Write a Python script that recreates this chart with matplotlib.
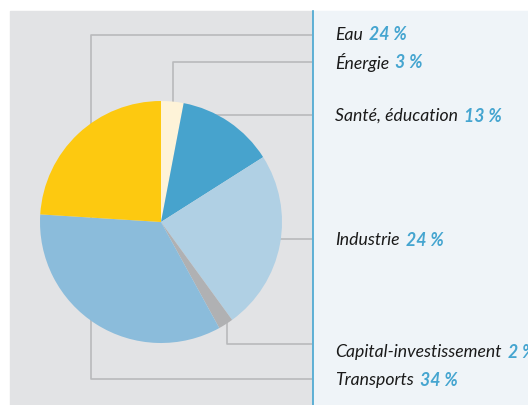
import matplotlib
matplotlib.use("Agg")
import matplotlib.pyplot as plt

# données
secteurs = ["Énergie", "Santé, éducation", "Industrie", "Capital-investissement", "Transports", "Eau"]
parts = [3, 13, 24, 2, 34, 24]
couleurs = ["#fef3d8", "#47a3cd", "#b0d0e4", "#b0b1b3", "#8bbcdb", "#fdc910"]

# ordre des étiquettes à droite
etiquettes = ["Eau", "Énergie", "Santé, éducation", "Industrie", "Capital-investissement", "Transports"]
etiq_y = [35, 63, 116, 240, 352, 380]

W, H = 528, 405
fig = plt.figure(figsize=(W / 100, H / 100), dpi=100)
ax = fig.add_axes([0, 0, 1, 1])

def Y(y):  # pixels depuis le haut -> coordonnées
    return H - y

# fonds
ax.add_patch(plt.Rectangle((10, 0), 302, Y(11), color="#e2e3e5", zorder=0))
ax.add_patch(plt.Rectangle((313, 0), W - 313, Y(11), color="#eff4f8", zorder=0))
ax.plot([312.5, 312.5], [0, Y(11)], color="#45a5d0", lw=1.2, zorder=1)

# traits de rappel
gris = "#b8b9bb"
lignes = [
    ([91, 91, 312], [222, 35, 35]),
    ([173, 173, 312], [110, 62, 62]),
    ([200, 312], [115, 115]),
    ([270, 312], [239, 239]),
    ([227, 227, 312], [315, 344, 344]),
    ([91, 91, 312], [300, 379, 379]),
]
for xs, ys in lignes:
    ax.plot(xs, [Y(v) for v in ys], color=gris, lw=1.2, zorder=1, solid_capstyle="butt")

# camembert
ax.pie(parts, colors=couleurs, startangle=90, counterclock=False,
       center=(161, Y(222)), radius=121, frame=True,
       wedgeprops=dict(linewidth=0, zorder=2))
ax.set_xlim(0, W)
ax.set_ylim(0, H)
ax.set_aspect("equal")
ax.axis("off")

# étiquettes
police = "Lato"
taille = 12.7
textes = []
for nom, y in zip(etiquettes, etiq_y):
    t = ax.text(335, Y(y), nom, fontsize=taille, style="italic", family=police,
                color="#1a1a1a", va="center", zorder=3)
    textes.append(t)

fig.canvas.draw()
inv = ax.transData.inverted()
for t, nom in zip(textes, etiquettes):
    bb = t.get_window_extent()
    x1 = inv.transform((bb.x1, bb.y0))[0]
    val = parts[secteurs.index(nom)]
    ax.text(x1 + 6, t.get_position()[1], f"{val} %", fontsize=taille, style="italic",
            weight="bold", family=police, color="#45a5d0", va="center", zorder=3)

fig.savefig("out.png", dpi=100, facecolor="white")
